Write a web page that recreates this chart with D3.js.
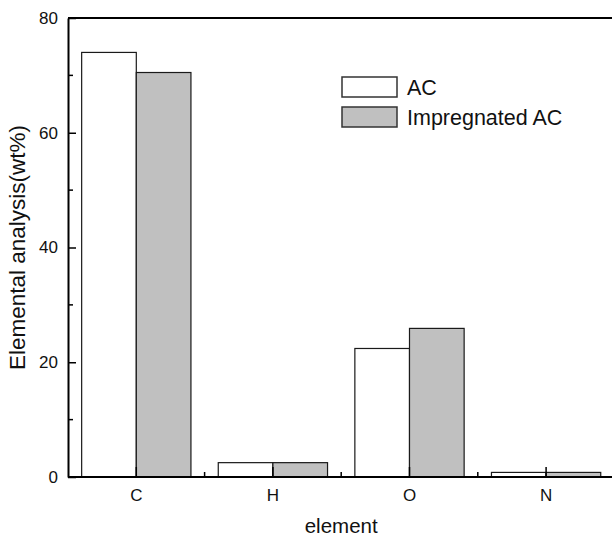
<!DOCTYPE html>
<html>
<head>
<meta charset="utf-8">
<script src="https://cdn.jsdelivr.net/npm/d3@7"></script>
<style>
  body { margin: 0; background: #fff; }
  svg { display: block; font-family: "Liberation Sans", Arial, sans-serif; }
</style>
</head>
<body>
<svg id="chart" width="612" height="538"></svg>
<script>
const elements = ["C", "H", "O", "N"]
const seriesNames = ["AC", "Impregnated AC"]
const acValues = [74.0, 2.5, 22.4, 0.8]
const impregnatedValues = [70.5, 2.5, 25.9, 0.8]
const yMajorTicks = [0, 20, 40, 60, 80]
const yMinorTicks = [10, 30, 50, 70]

const fills = ["#ffffff", "#c0c0c0"]

const width = 612,
    height = 538,
    plotLeft = 68,
    plotTop = 18,
    plotBottom = 477

const svg = d3.select("#chart")

svg.append("rect")
    .attr("width", width)
    .attr("height", height)
    .attr("fill", "#fff")

// the plot runs past the right edge of the picture
const x = d3.scaleBand()
    .domain(elements)
    .range([plotLeft, plotLeft + 4 * 136.6])
    .padding(0)

const xInner = d3.scaleBand()
    .domain(seriesNames)
    .range([0, x.bandwidth()])
    .paddingInner(0)
    .paddingOuter(0.25)

const y = d3.scaleLinear()
    .domain([0, 80])
    .range([plotBottom, plotTop])

const rows = elements.map((e, i) => ({
    element: e,
    values: [acValues[i], impregnatedValues[i]]
}))

// bars
const groups = svg.append("g")
    .selectAll("g")
    .data(rows)
    .enter()
    .append("g")
    .attr("transform", d => `translate(${x(d.element)},0)`)

groups.selectAll("rect")
    .data(d => d.values.map((v, i) => ({ name: seriesNames[i], value: v, i: i })))
    .enter()
    .append("rect")
    .attr("x", d => xInner(d.name))
    .attr("y", d => y(d.value))
    .attr("width", xInner.bandwidth())
    .attr("height", d => y(0) - y(d.value))
    .attr("fill", d => fills[d.i])
    .attr("stroke", "#1a1a1a")
    .attr("stroke-width", 1.2)

// top frame line
svg.append("line")
    .attr("x1", plotLeft)
    .attr("x2", width)
    .attr("y1", plotTop)
    .attr("y2", plotTop)
    .attr("stroke", "#000")
    .attr("stroke-width", 2)

// y axis
const yAxis = d3.axisLeft(y)
    .tickValues(yMajorTicks)
    .tickFormat(d3.format("d"))
    .tickSizeInner(-8)
    .tickSizeOuter(0)
    .tickPadding(10)

const gy = svg.append("g")
    .attr("transform", `translate(${plotLeft},0)`)
    .call(yAxis)

gy.append("g")
    .selectAll("line")
    .data(yMinorTicks)
    .enter()
    .append("line")
    .attr("x1", 0)
    .attr("x2", 5)
    .attr("y1", d => y(d))
    .attr("y2", d => y(d))
    .attr("stroke", "#000")
    .attr("stroke-width", 1.5)

// x axis
const xAxis = d3.axisBottom(x)
    .tickSizeInner(-10)
    .tickSizeOuter(0)
    .tickPadding(12)

const gx = svg.append("g")
    .attr("transform", `translate(0,${plotBottom})`)
    .call(xAxis)

gx.select(".domain").remove()
gx.append("line")
    .attr("x1", plotLeft)
    .attr("x2", width)
    .attr("stroke", "#000")
    .attr("stroke-width", 2)

gx.append("g")
    .selectAll("line")
    .data(elements.slice(0, -1))
    .enter()
    .append("line")
    .attr("x1", d => x(d) + x.bandwidth())
    .attr("x2", d => x(d) + x.bandwidth())
    .attr("y1", 0)
    .attr("y2", -5)
    .attr("stroke", "#000")
    .attr("stroke-width", 1.5)

svg.selectAll(".tick line")
    .attr("stroke", "#000")
    .attr("stroke-width", 1.5)
gy.select(".domain").attr("stroke-width", 2)
svg.selectAll(".tick text")
    .attr("font-size", 17)
    .attr("font-family", "Liberation Sans, Arial, sans-serif")
    .attr("fill", "#111")

// axis titles
svg.append("text")
    .attr("x", x("H") + x.bandwidth())
    .attr("y", 533)
    .attr("text-anchor", "middle")
    .attr("font-size", 20.5)
    .attr("fill", "#111")
    .text("element")

svg.append("text")
    .attr("transform", `translate(25,${(plotTop + plotBottom) / 2}) rotate(-90)`)
    .attr("text-anchor", "middle")
    .attr("font-size", 22.5)
    .attr("fill", "#111")
    .text("Elemental analysis(wt%)")

// legend
const legend = svg.append("g")
    .attr("transform", "translate(342,77)")

const items = legend.selectAll("g")
    .data(seriesNames)
    .enter()
    .append("g")
    .attr("transform", (d, i) => `translate(0,${i * 30})`)

items.append("rect")
    .attr("width", 55)
    .attr("height", 20)
    .attr("fill", (d, i) => fills[i])
    .attr("stroke", "#333")
    .attr("stroke-width", 1.5)

items.append("text")
    .attr("x", 65)
    .attr("y", 18)
    .attr("font-size", 21.5)
    .attr("fill", "#111")
    .text(d => d)
</script>
</body>
</html>
